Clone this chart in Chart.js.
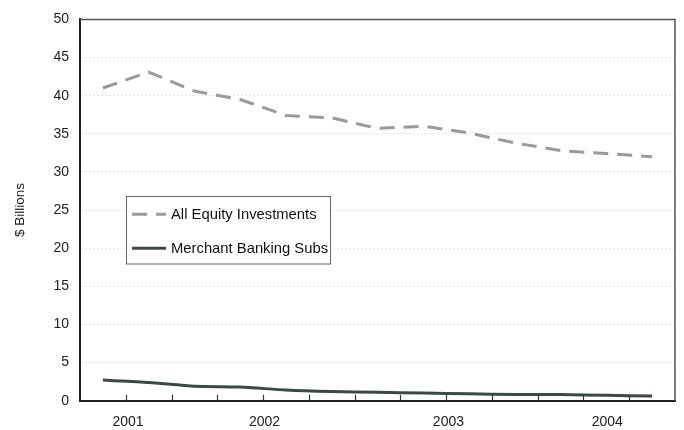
<!DOCTYPE html>
<html>
<head>
<meta charset="utf-8">
<script src="https://cdn.jsdelivr.net/npm/chart.js@4/dist/chart.umd.min.js"></script>
<style>
html,body{margin:0;padding:0;background:#fff;}
#wrap{width:684px;height:430px;position:relative;}
</style>
</head>
<body>
<div id="wrap"><canvas id="c" width="684" height="430"></canvas></div>
<script>
// Quarterly observations (13 points)
const quarters = ['2001Q3','2001Q4','2002Q1','2002Q2','2002Q3','2002Q4','2003Q1','2003Q2','2003Q3','2003Q4','2004Q1','2004Q2','2004Q3'];
const allEquity = [41.0, 43.1, 40.6, 39.5, 37.4, 37.1, 35.7, 36.0, 35.1, 33.8, 32.8, 32.4, 32.0];
const merchantBanking = [2.7, 2.4, 1.9, 1.8, 1.4, 1.2, 1.1, 1.0, 0.9, 0.8, 0.8, 0.7, 0.6];
const yearLabels = ['2001','2002','2003','2004'];
const yearPositions = [0.55, 3.53, 7.55, 11.02];
const yTicks = [0,5,10,15,20,25,30,35,40,45,50];

const FONT = 'Liberation Sans, Arial, sans-serif';

const framePlugin = {
  id: 'frame',
  afterDraw(chart) {
    const ctx = chart.ctx, a = chart.chartArea, xs = chart.scales.x;
    ctx.save();
    // top & right frame
    ctx.strokeStyle = '#555';
    ctx.lineWidth = 1.5;
    ctx.beginPath();
    ctx.moveTo(a.left, a.top);
    ctx.lineTo(a.right, a.top);
    ctx.lineTo(a.right, a.bottom);
    ctx.stroke();
    // inner tick marks between quarters
    ctx.strokeStyle = '#333';
    ctx.lineWidth = 1.2;
    ctx.beginPath();
    for (let k = 1; k < quarters.length; k++) {
      const px = Math.round(xs.getPixelForValue(k - 0.5)) + 0.5;
      ctx.moveTo(px, a.bottom);
      ctx.lineTo(px, a.bottom - 6);
    }
    ctx.stroke();
    // legend box
    const bx = 126, by = 196, bw = 204, bh = 67.5;
    ctx.fillStyle = '#fff';
    ctx.fillRect(bx, by, bw, bh);
    ctx.strokeStyle = '#666';
    ctx.lineWidth = 1;
    ctx.strokeRect(bx + 0.5, by + 0.5, bw, bh);
    const ds = chart.data.datasets;
    const rows = [214.3, 248.3];
    ds.forEach((d, i) => {
      ctx.strokeStyle = d.borderColor;
      ctx.lineWidth = d.borderWidth;
      ctx.setLineDash(d.borderDash || []);
      ctx.beginPath();
      ctx.moveTo(132, rows[i]);
      ctx.lineTo(166, rows[i]);
      ctx.stroke();
      ctx.setLineDash([]);
      ctx.fillStyle = '#111';
      ctx.font = '14.8px ' + FONT;
      ctx.textBaseline = 'middle';
      ctx.textAlign = 'left';
      ctx.fillText(d.label, 171, rows[i] + 0.5);
    });
    ctx.restore();
  }
};

new Chart(document.getElementById('c'), {
  type: 'line',
  data: {
    datasets: [
      {
        label: 'All Equity Investments',
        data: allEquity.map((v, i) => ({x: i, y: v})),
        borderColor: '#9a9a9a',
        borderWidth: 3,
        borderDash: [15, 9],
        pointRadius: 0,
        tension: 0,
        fill: false
      },
      {
        label: 'Merchant Banking Subs',
        data: merchantBanking.map((v, i) => ({x: i, y: v})),
        borderColor: '#3c4848',
        borderWidth: 3,
        pointRadius: 0,
        tension: 0.2,
        fill: false
      }
    ]
  },
  options: {
    responsive: false,
    animation: false,
    devicePixelRatio: 1,
    layout: {padding: {left: 0, right: 9, top: 18, bottom: 0}},
    plugins: {legend: {display: false}, tooltip: {enabled: false}},
    scales: {
      x: {
        type: 'linear',
        min: -0.5,
        max: quarters.length - 0.5,
        afterBuildTicks(scale) {
          scale.ticks = yearPositions.map(v => ({value: v}));
        },
        afterFit(scale) { scale.height = 29.3; },
        grid: {display: false, drawTicks: false},
        border: {display: true, color: '#222', width: 2},
        ticks: {
          autoSkip: false,
          maxRotation: 0,
          padding: 13,
          color: '#222',
          font: {family: FONT, size: 14},
          callback(value) {
            const idx = yearPositions.indexOf(value);
            return idx >= 0 ? yearLabels[idx] : '';
          }
        }
      },
      y: {
        min: 0,
        max: 50,
        afterBuildTicks(scale) {
          scale.ticks = yTicks.map(v => ({value: v}));
        },
        afterFit(scale) { scale.width = 80; },
        grid: {
          color: (c) => (c.tick && (c.tick.value === 0 || c.tick.value === 50)) ? 'rgba(0,0,0,0)' : '#e2e2e2',
          lineWidth: 1,
          drawTicks: false
        },
        border: {display: true, color: '#222', width: 2, dash: [2, 2]},
        ticks: {
          padding: 11,
          color: '#222',
          font: {family: FONT, size: 14}
        },
        title: {
          display: true,
          text: '$ Billions',
          color: '#222',
          font: {family: FONT, size: 13.5},
          padding: {top: 12, bottom: 0}
        }
      }
    }
  },
  plugins: [framePlugin]
});
</script>
</body>
</html>
